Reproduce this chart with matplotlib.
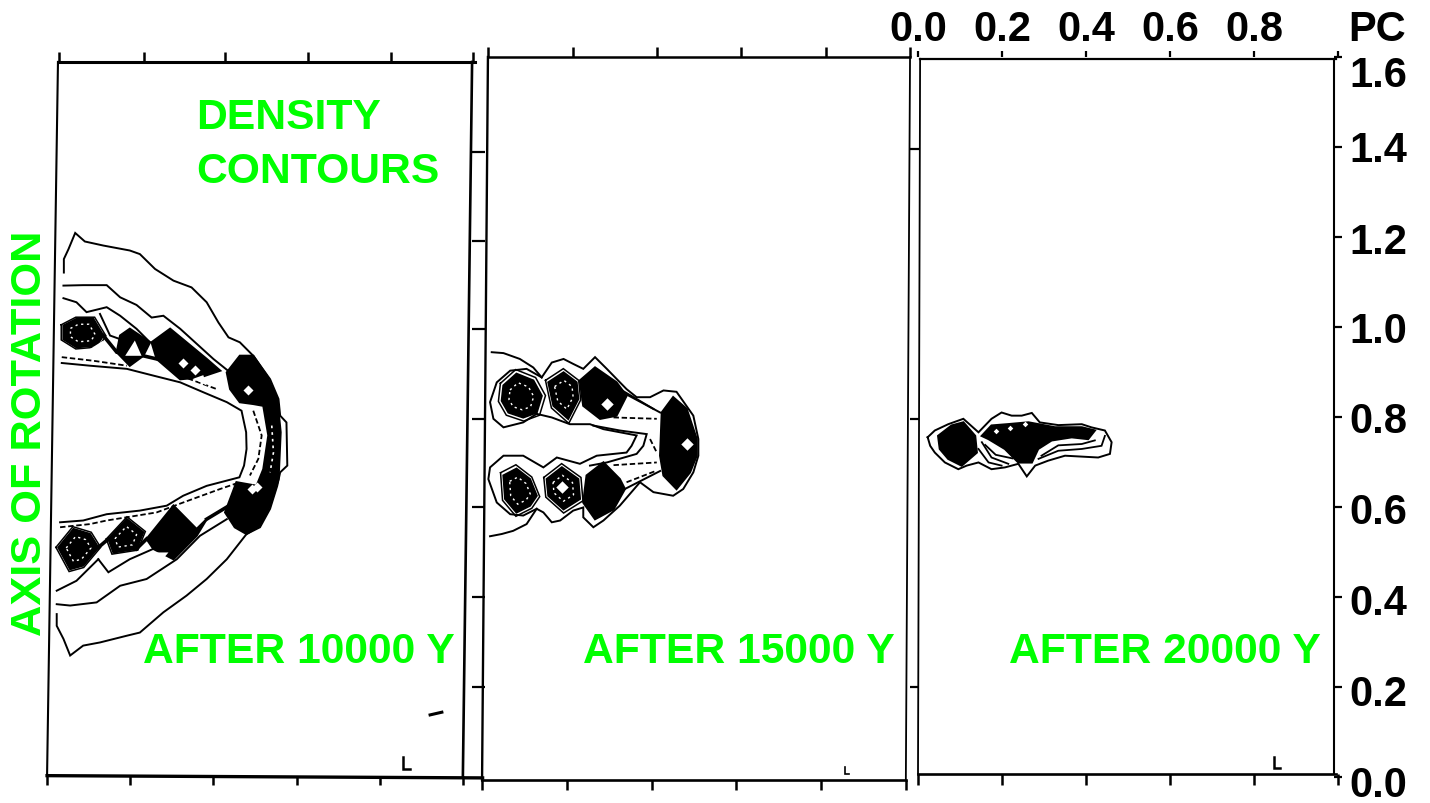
import matplotlib
matplotlib.use("Agg")
import matplotlib.pyplot as plt
from matplotlib.transforms import ScaledTranslation

plt.rcParams['font.family'] = ['Liberation Sans', 'DejaVu Sans']

# ---------- axis values (pc) ----------
X_TICKS = [0.0, 0.2, 0.4, 0.6, 0.8, 1.0]
X_LABELS = ['0.0', '0.2', '0.4', '0.6', '0.8', '']
Y_TICKS = [0.0, 0.2, 0.4, 0.6, 0.8, 1.0, 1.2, 1.4, 1.6]
Y_LABELS = ['0.0', '0.2', '0.4', '0.6', '0.8', '1.0', '1.2', '1.4', '1.6']

# ---------- panel 1: after 10000 y ----------
P1_OUTER = [(.033,1.121),(.033,1.151),(.044,1.173),(.060,1.209),(.083,1.190),(.127,1.181),(.190,1.170),(.214,1.162),
            (.250,1.129),(.294,1.103),(.337,1.088),(.373,1.055),(.401,1.010),(.425,.977),(.452,.966),(.484,.936),
            (.524,.884),(.544,.840),(.548,.803),(.563,.788),(.565,.692),(.548,.677),(.541,.647),(.524,.596),
            (.500,.555),(.468,.540),(.421,.484),(.373,.440),(.325,.403),(.270,.366),(.214,.321),(.183,.314),
            (.119,.299),(.079,.292),(.048,.270),(.032,.307),(.016,.336),(.016,.362)]
P1_SECOND_UP = [(.032,1.092),(.079,1.093),(.135,1.093),(.167,1.066),(.206,1.049),(.242,1.021),(.270,1.025),(.310,.996),(.389,.929),(.429,.899)]
P1_SECOND_LOW = [(.016,.384),(.048,.381),(.111,.388),(.167,.425),(.230,.440),(.302,.484),(.357,.536),(.421,.573)]
P1_THIRD_UP = [(.032,1.064),(.063,1.055),(.087,1.033),(.135,1.044),(.167,1.025),(.206,.996),(.238,.966)]
P1_INNER = [(.028,.920),(.095,.914),(.183,.907),(.246,.892),(.310,.877),(.365,.855),(.421,.833),(.456,.814),(.467,.766),
            (.468,.729),(.462,.692),(.451,.666),(.373,.647),(.317,.625),(.278,.603),(.214,.592),(.135,.584),(.079,.570),(.024,.566)]
P1_TRI_LOW = [(.115,.484),(.139,.455),(.190,.484),(.246,.507)]
P1_EDGE_LOW = [(.016,.414),(.063,.436),(.115,.484)]
P1_EDGE_UP = [(.119,1.029),(.143,.981),(.167,.973)]
P1_LINK_UP = [(.127,.981),(.159,.944),(.222,.936),(.254,.929)]
P1_LINK_LOW_A = [(.115,.510),(.139,.529)]
P1_LINK_LOW_B = [(.206,.507),(.230,.529)]
P1_LINK_LOW_C = [(.373,.573),(.421,.600)]
P1_BLOB_RIGHT = [(.421,.899),(.452,.936),(.484,.936),(.516,.892),(.541,.840),(.549,.766),(.544,.662),(.524,.603),(.500,.559),
                 (.468,.540),(.440,.555),(.417,.588),(.444,.655),(.492,.647),(.508,.684),(.520,.759),(.508,.825),(.484,.829),(.452,.833),(.429,.862)]
P1_BLOB_B = [(.242,.966),(.286,.996),(.373,.929),(.405,.903),(.357,.888),(.310,.884),(.254,.929)]
P1_BLOB_C = [(.167,.981),(.190,.996),(.238,.966),(.222,.936),(.190,.914),(.159,.944)]
P1_BLOB_D = [(.032,1.003),(.063,1.018),(.103,1.018),(.127,.981),(.111,.959),(.063,.955),(.032,.973)]
P1_BLOB_F = [(.230,.529),(.294,.603),(.349,.551),(.373,.573),(.349,.536),(.294,.484),(.246,.507)]
P1_BLOB_G = [(.139,.529),(.183,.573),(.222,.544),(.206,.507),(.151,.499)]
P1_BLOB_H = [(.020,.510),(.056,.551),(.095,.540),(.115,.510),(.079,.470),(.048,.462)]
P1_WHITE_A = [(.179,.936),(.202,.970),(.218,.936)]
P1_WHITE_B = [(.250,.499),(.282,.499),(.266,.481)]
P1_WHITE_C = [(.329,.592),(.357,.603),(.381,.588),(.349,.570)]
P1_WHITE_D = [(.095,.951),(.127,.970),(.127,.936)]
P1_WHITE_E = [(.341,.885),(.365,.893),(.373,.870)]
P1_DASH_ARC = [(.484,.814),(.504,.759),(.496,.707),(.476,.670)]
P1_DASH_UP = [(.028,.933),(.103,.925),(.183,.914)]
P1_DASH_UP2 = [(.310,.892),(.397,.862)]
P1_DASH_LOW = [(.024,.555),(.095,.562),(.135,.570),(.254,.588),(.317,.610),(.405,.640),(.452,.655)]
P1_BAND_SPECK = [(.528,.781),(.532,.721),(.524,.677)]
P1_HOLES = [(.472,.861),(.317,.921),(.492,.645),(.480,.640),(.345,.905)]

# ---------- panel 2: after 15000 y ----------
P2_OUTER = [(.016,.944),(.044,.942),(.083,.929),(.115,.910),(.135,.888),(.159,.921),(.187,.929),(.210,.918),(.234,.907),
            (.262,.933),(.290,.907),(.337,.862),(.361,.844),(.393,.844),(.425,.859),(.456,.856),(.496,.803),(.508,.751),
            (.508,.714),(.496,.677),(.472,.640),(.448,.625),(.401,.633),(.369,.655),(.321,.603),(.282,.570),(.258,.555),
            (.234,.577),(.234,.599),(.210,.592),(.179,.570),(.159,.566),(.139,.588),(.123,.596),(.099,.562),(.067,.547),
            (.040,.540),(.012,.535)]
P2_RING_UP = [(.135,.888),(.099,.907),(.060,.903),(.028,.877),(.012,.833),(.020,.796),(.044,.777),(.091,.788),(.123,.807)]
P2_CHANNEL = [(.123,.807),(.159,.799),(.202,.784),(.250,.784),(.282,.773),(.361,.759),(.349,.736),(.337,.721),(.266,.714),(.226,.696),
              (.171,.710),(.139,.688),(.091,.714),(.044,.714),(.012,.688),(.008,.662),(.028,.610),(.060,.584),(.091,.581),(.123,.596)]
P2_CHANNEL2 = [(.258,.781),(.321,.770),(.385,.762),(.377,.736),(.361,.718),(.290,.699),(.250,.692)]
P2_BLOB_RIGHT = [(.421,.810),(.448,.844),(.480,.818),(.504,.751),(.504,.714),(.488,.677),(.456,.640),(.425,.670),(.417,.714)]
P2_BLOB_UL1 = [(.044,.870),(.075,.896),(.115,.881),(.135,.847),(.123,.810),(.091,.799),(.056,.810),(.040,.836)]
P2_BLOB_UL2 = [(.151,.877),(.187,.899),(.218,.877),(.222,.840),(.198,.796),(.163,.825)]
P2_BLOB_UL3 = [(.226,.881),(.262,.910),(.313,.877),(.337,.847),(.313,.803),(.274,.796),(.234,.825)]
P2_BLOB_LL1 = [(.044,.670),(.075,.685),(.107,.662),(.123,.625),(.107,.603),(.075,.588),(.048,.618)]
P2_BLOB_LL2 = [(.147,.662),(.183,.688),(.222,.662),(.226,.618),(.187,.595),(.151,.625)]
P2_BLOB_LL3 = [(.242,.670),(.282,.699),(.321,.662),(.333,.640),(.306,.595),(.262,.573),(.234,.610)]
P2_DASH_A = [(.306,.799),(.409,.796)]
P2_DASH_B = [(.393,.751),(.409,.721)]
P2_DASH_C = [(.306,.693),(.409,.699)]
P2_DASH_D = [(.337,.655),(.409,.681)]
P2_LINE_E = [(.321,.862),(.401,.818)]
P2_LINE_F = [(.337,.850),(.417,.810)]
P2_LINE_G = [(.333,.640),(.417,.680)]
P2_HOLES = [(.183,.644),(.290,.829),(.480,.740)]

# ---------- panel 3: after 20000 y ----------
P3_OUTER = [(.023,.755),(.040,.770),(.072,.784),(.108,.796),(.144,.766),(.175,.796),(.199,.810),(.223,.803),(.247,.803),
            (.271,.809),(.290,.788),(.334,.782),(.390,.784),(.413,.777),(.445,.770),(.461,.744),(.457,.718),(.429,.710),
            (.350,.714),(.310,.703),(.279,.692),(.259,.668),(.239,.696),(.207,.688),(.175,.684),(.144,.699),(.116,.692),
            (.096,.684),(.064,.699),(.040,.721),(.029,.736),(.023,.755)]
P3_BLOB_L = [(.048,.758),(.080,.781),(.108,.788),(.136,.758),(.140,.721),(.104,.692),(.072,.707),(.052,.729)]
P3_BLOB_M = [(.152,.758),(.175,.781),(.215,.784),(.263,.788),(.326,.777),(.390,.777),(.421,.770),(.405,.751),(.366,.755),(.318,.748),
             (.286,.729),(.271,.699),(.239,.699),(.223,.714),(.207,.729),(.168,.751)]
P3_LINE_A = [(.152,.744),(.175,.710),(.215,.696)]
P3_LINE_B = [(.144,.729),(.168,.699),(.199,.692)]
P3_LINE_C = [(.287,.707),(.334,.725),(.390,.729),(.437,.736),(.445,.758)]
P3_LINE_D = [(.294,.714),(.334,.737),(.390,.740),(.421,.748)]
P3_LINE_E = [(.160,.738),(.185,.716),(.225,.708)]
P3_HOLES = [(.220,.775),(.255,.785),(.185,.770)]

# ---------- scanned frames, ticks (pc) ----------
P1_LEFT = [(-.007,.003),(.019,1.589)]
P1_RIGHT = [(.983,.000),(1.005,1.589)]
P1_TOP_LINE = [(.019,1.589),(1.012,1.589)]
P1_BOTTOM_LINE = [(-.007,.003),(1.030,-.002)]
P1_TOP = [.021,.224,.417,.614,.812,1.007]
P1_BOTTOM = [-.007,.190,.388,.588,.786,.983]
P2_LEFT = [(-.007,-.007),(.007,1.600)]
P2_RIGHT = [(1.002,-.007),(1.012,1.600)]
P2_TOP_LINE = [(.007,1.600),(1.012,1.600)]
P2_BOTTOM_LINE = [(-.007,-.007),(1.002,-.007)]
P2_TOP = [.007,.210,.410,.610,.812,1.012]
P2_BOTTOM = [-.007,.195,.398,.598,.800,1.002]
P2_SIDE = [1.389,1.191,.996,.796,.600,.400,.200]
P3_LEFT = [(0.0,.007),(.005,1.596)]
P3_RIGHT = [(.990,.007),(.990,1.596)]
P3_TOP_LINE = [(.005,1.596),(.995,1.596)]
P3_BOTTOM_LINE = [(0.0,.007),(.995,.007)]
P3_BOTTOM = [0.0,.2,.4,.6,.8,1.0]
P3_SIDE = [1.396,.796,.200]
P1_MARK = [(.840,.044),(.840,.018),(.857,.018)]
P2_MARK = [(.857,.022),(.857,.007),(.866,.007)]
P3_MARK = [(.848,.044),(.848,.020),(.862,.020)]
P1_BLIP = [(.905,.138),(.933,.144)]

W, H = 1430, 804
fig = plt.figure(figsize=(W/100, H/100), dpi=100, facecolor='white')


def panel(left):
    ax = fig.add_axes([left/W, (H-778)/H, 420/W, 720/H])
    ax.set_xlim(0, 1)
    ax.set_ylim(0, 1.6)
    ax.patch.set_visible(False)
    for s in ax.spines.values():
        s.set_visible(False)
    ax.set_xticks([])
    ax.set_yticks([])
    return ax


def line(ax, pts, lw=1.3, ls='-', color='black', z=2):
    ax.plot([p[0] for p in pts], [p[1] for p in pts], color=color, lw=lw, ls=ls,
            clip_on=False, solid_joinstyle='miter', zorder=z)


def blob(ax, pts):
    ax.fill([p[0] for p in pts], [p[1] for p in pts], color='black', lw=1.6, clip_on=False, zorder=3)


def white(ax, pts):
    ax.fill([p[0] for p in pts], [p[1] for p in pts], color='white', lw=0, clip_on=False, zorder=4)


def scaled(pts, k):
    cx = sum(p[0] for p in pts) / len(pts)
    cy = sum(p[1] for p in pts) / len(pts)
    out = [(cx + k*(p[0]-cx), cy + k*(p[1]-cy)) for p in pts]
    return out + out[:1]


def swirl(ax, pts, k=0.62):
    """Broken white contour gaps inside a saturated blob."""
    line(ax, scaled(pts, k), 1.0, (0, (1.6, 2.6)), 'white', 5)


def halo(ax, pts, k=1.16):
    """Next contour level just outside a blob."""
    line(ax, scaled(pts, k), 1.1)


def holes(ax, pts, size=26):
    ax.scatter([p[0] for p in pts], [p[1] for p in pts], s=size, marker='D', color='white',
               linewidths=0, zorder=6, clip_on=False)


def ticks_x(ax, xs, y0, y1):
    ax.vlines(xs, y0, y1, color='black', lw=1.8, clip_on=False)


def ticks_y(ax, ys, x0, x1):
    ax.hlines(ys, x0, x1, color='black', lw=1.6, clip_on=False)


ax1 = panel(50)
ax2 = panel(485)
ax3 = panel(918)

# panel 1
line(ax1, P1_LEFT, 1.5)
line(ax1, P1_RIGHT, 1.9)
line(ax1, P1_TOP_LINE, 2.2)
line(ax1, P1_BOTTOM_LINE, 2.4)
ticks_x(ax1, P1_TOP, 1.589, 1.612)
ticks_x(ax1, P1_BOTTOM, -.018, .003)
for c in (P1_OUTER, P1_SECOND_UP, P1_SECOND_LOW, P1_THIRD_UP, P1_INNER, P1_TRI_LOW, P1_EDGE_LOW, P1_EDGE_UP):
    line(ax1, c, 1.4)
for c in (P1_LINK_UP, P1_LINK_LOW_A, P1_LINK_LOW_B, P1_LINK_LOW_C):
    line(ax1, c, 2.6)
for c in (P1_BLOB_RIGHT, P1_BLOB_B, P1_BLOB_C, P1_BLOB_D, P1_BLOB_F, P1_BLOB_G, P1_BLOB_H):
    blob(ax1, c)
for c in (P1_BLOB_D, P1_BLOB_H, P1_BLOB_G):
    halo(ax1, c, 1.12)
    swirl(ax1, c)
for c in (P1_WHITE_A, P1_WHITE_B, P1_WHITE_C, P1_WHITE_D, P1_WHITE_E):
    white(ax1, c)
for c in (P1_DASH_ARC, P1_DASH_UP, P1_DASH_UP2, P1_DASH_LOW):
    line(ax1, c, 1.3, (0, (3, 1.5)))
line(ax1, P1_BAND_SPECK, 1.2, (0, (1.6, 2.4)), 'white', 5)
holes(ax1, P1_HOLES)
line(ax1, P1_MARK, 1.8)
line(ax1, P1_BLIP, 2.2)

# panel 2
line(ax2, P2_LEFT, 1.7)
line(ax2, P2_RIGHT, 1.3)
line(ax2, P2_TOP_LINE, 1.8)
line(ax2, P2_BOTTOM_LINE, 1.9)
ticks_x(ax2, P2_TOP, 1.600, 1.622)
ticks_x(ax2, P2_BOTTOM, -.029, -.007)
ticks_y(ax2, P2_SIDE, -.030, .000)
for c in (P2_OUTER, P2_RING_UP, P2_CHANNEL, P2_CHANNEL2, P2_LINE_E, P2_LINE_F, P2_LINE_G):
    line(ax2, c, 1.4)
for c in (P2_BLOB_RIGHT, P2_BLOB_UL1, P2_BLOB_UL2, P2_BLOB_UL3, P2_BLOB_LL1, P2_BLOB_LL2, P2_BLOB_LL3):
    blob(ax2, c)
for c in (P2_BLOB_UL1, P2_BLOB_UL2, P2_BLOB_LL1, P2_BLOB_LL2):
    halo(ax2, c, 1.18)
    swirl(ax2, c)
for c in (P2_DASH_A, P2_DASH_B, P2_DASH_C, P2_DASH_D):
    line(ax2, c, 1.3, (0, (3, 1.5)))
holes(ax2, P2_HOLES, 40)
line(ax2, P2_MARK, 1.2)

# panel 3, carries the real pc scale
line(ax3, P3_LEFT, 1.3)
line(ax3, P3_RIGHT, 1.5)
line(ax3, P3_TOP_LINE, 1.6)
line(ax3, P3_BOTTOM_LINE, 1.9)
ticks_x(ax3, P3_BOTTOM, -.018, .007)
ax3.set_xticks(X_TICKS, X_LABELS)
ax3.set_yticks(Y_TICKS, Y_LABELS)
ax3.xaxis.set_ticks_position('top')
ax3.yaxis.set_ticks_position('right')
ax3.tick_params(axis='x', which='both', top=True, bottom=False, labeltop=True, labelbottom=False,
                length=4, width=1.6, direction='out', pad=1.5, labelsize=30)
ax3.tick_params(axis='y', which='both', right=True, left=False, labelright=True, labelleft=False,
                length=6, width=1.6, direction='inout', pad=5.5, labelsize=30)
for lab in ax3.get_xticklabels() + ax3.get_yticklabels():
    lab.set_fontweight('bold')
for lab, dy in zip(ax3.get_yticklabels(), [-4, -3, -2, 0, 0, 0, 0, 2, -14]):
    lab.set_transform(lab.get_transform() + ScaledTranslation(0, dy/100, fig.dpi_scale_trans))
ticks_y(ax3, P3_SIDE, -.020, .003)
line(ax3, P3_OUTER, 1.4)
for c in (P3_BLOB_L, P3_BLOB_M):
    blob(ax3, c)
for c in (P3_LINE_A, P3_LINE_B, P3_LINE_C, P3_LINE_D, P3_LINE_E):
    line(ax3, c, 1.3)
holes(ax3, P3_HOLES, 8)
line(ax3, P3_MARK, 1.8)


def gtext(x, y, s, **kw):
    fig.text(x/W, 1 - y/H, s, color='#00FF00', fontsize=30.7, fontweight='bold', va='center', **kw)


gtext(196, 118, 'DENSITY')
gtext(196, 172, 'CONTOURS')
gtext(143, 652, 'AFTER 10000 Y')
gtext(583, 652, 'AFTER 15000 Y')
gtext(1009, 652, 'AFTER 20000 Y')
fig.text(30/W, 1 - 433/H, 'AXIS OF ROTATION', color='#00FF00', fontsize=31.2, fontweight='bold',
         rotation=90, ha='center', va='center')
fig.text(1377/W, 1 - 30/H, 'PC', color='black', fontsize=30, fontweight='bold', ha='center', va='center')

fig.savefig('out.png', dpi=100)
